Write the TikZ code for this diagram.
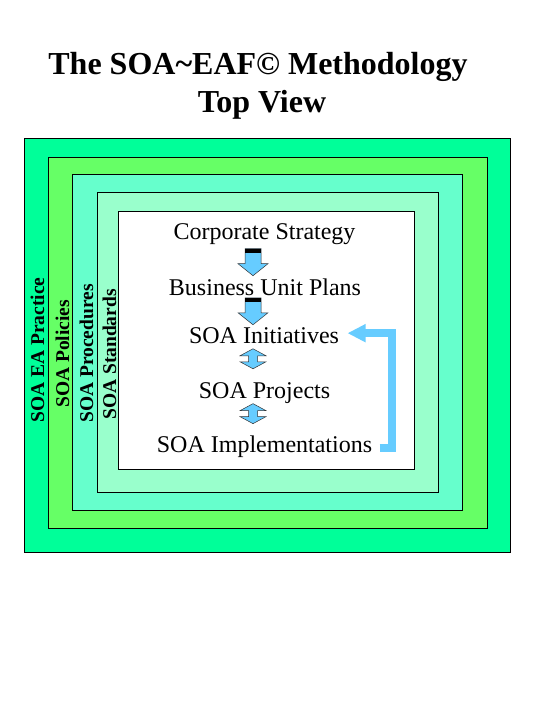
\documentclass[tikz,border=0pt]{standalone}
\usepackage{fontspec}
\setmainfont{Liberation Serif}
\usetikzlibrary{calc, shapes, arrows.meta}
\definecolor{practice}{HTML}{00FF99}
\definecolor{policies}{HTML}{66FF66}
\definecolor{procedures}{HTML}{66FFCC}
\definecolor{standards}{HTML}{99FFCC}
\definecolor{skyblue}{HTML}{66CCFF}

\begin{document}
\begin{tikzpicture}[x=1pt,y=-1pt]
\tikzstyle{layer}=[draw=black,line width=0.8pt]
\tikzstyle{sidetext}=[rotate=90,anchor=base west,inner sep=0pt,font=\fontsize{19.5}{22}\selectfont\bfseries]
\tikzstyle{steptext}=[anchor=base,font=\fontsize{24}{28}\selectfont]
\tikzstyle{titletext}=[anchor=base,font=\fontsize{32}{38}\selectfont\bfseries]
\tikzstyle{blockarrow}=[draw=black!80,line width=0.5pt,fill=skyblue,line join=miter]
\tikzstyle{loopline}=[draw=skyblue,line width=8pt,line join=miter,-{Triangle[length=18pt,width=17pt]}]
\fill[white] (0,0) rectangle (540,720);
\useasboundingbox (0,0) rectangle (540,720);
% title
\node[titletext] (title) at (258,74) {The SOA\textasciitilde EAF© Methodology};
\node[titletext] (subtitle) at (262,112) {Top View};
% nested layers
\filldraw[layer,fill=practice] (24,138) rectangle (510,552);
\filldraw[layer,fill=policies] (48,157) rectangle (487,528);
\filldraw[layer,fill=procedures] (72,174) rectangle (462,510);
\filldraw[layer,fill=standards] (97,192) rectangle (438,492);
\filldraw[layer,fill=white] (118,211) rectangle (414,469);
\node[sidetext] (practice) at (44,423) {SOA EA Practice};
\node[sidetext] (policy) at (69,408) {SOA Policies};
\node[sidetext] (procedure) at (93,423) {SOA Procedures};
\node[sidetext] (standard) at (116,420) {SOA Standards};
% levels
\node[steptext] (strategy) at (264.5,239) {Corporate Strategy};
\node[steptext] (units) at (265,295) {Business Unit Plans};
\node[steptext] (initiatives) at (264,343) {SOA Initiatives};
\node[steptext] (projects) at (264.5,398) {SOA Projects};
\node[steptext] (impls) at (264.5,452) {SOA Implementations};
\coordinate (axis) at (253,0);
\coordinate (turn) at (392,0);
\coordinate (a1) at ($(strategy.south -| axis)+(0,1)$);
\coordinate (a2) at ($(units.south -| axis)+(0,-1)$);
\coordinate (a3) at ($(initiatives.south -| axis)+(0,2)$);
\coordinate (a4) at ($(projects.south -| axis)+(0,-3)$);
% arrows between levels
\filldraw[blockarrow] (a1) ++(-8,0) -- ++(16,0) -- ++(0,15) -- ++(7,0) -- ++(-15,12) -- ++(-15,-12) -- ++(7,0) -- cycle;
\fill[black] ($(a1)+(-8,0)$) rectangle ($(a1)+(8,4)$);
\filldraw[blockarrow] (a2) ++(-8,0) -- ++(16,0) -- ++(0,15) -- ++(7,0) -- ++(-15,12) -- ++(-15,-12) -- ++(7,0) -- cycle;
\fill[black] ($(a2)+(-8,0)$) rectangle ($(a2)+(8,4)$);
\filldraw[blockarrow] (a3) -- ++(13,7) -- ++(-8.5,0) -- ++(0,6) -- ++(8.5,0) -- ++(-13,7) -- ++(-13,-7) -- ++(8.5,0) -- ++(0,-6) -- ++(-8.5,0) -- cycle;
\filldraw[blockarrow] (a4) -- ++(13,7) -- ++(-8.5,0) -- ++(0,6) -- ++(8.5,0) -- ++(-13,7) -- ++(-13,-7) -- ++(8.5,0) -- ++(0,-6) -- ++(-8.5,0) -- cycle;
% feedback loop
\draw[loopline] ([xshift=4pt,yshift=-2pt]impls.east) -- ([yshift=-2pt]impls.east -| turn) -- ([yshift=2pt]initiatives.east -| turn) -- ([xshift=5pt,yshift=2pt]initiatives.east);
\end{tikzpicture}
\end{document}
